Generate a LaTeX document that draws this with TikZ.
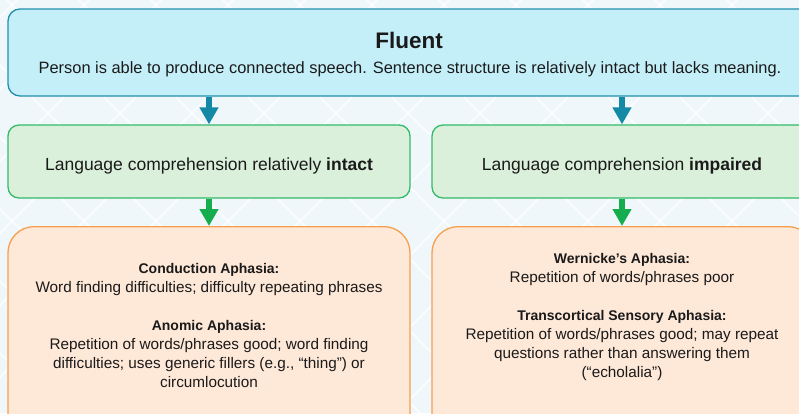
\documentclass[tikz,border=0pt]{standalone}
\usepackage{fontspec}
\setmainfont{Liberation Sans}
\usetikzlibrary{arrows.meta}
\definecolor{bgcol}{HTML}{EFF7FA}
\definecolor{topfill}{HTML}{C4EFF8}
\definecolor{topline}{HTML}{2190AD}
\definecolor{tarrow}{HTML}{1489A6}
\definecolor{gfill}{HTML}{DBF0DA}
\definecolor{gline}{HTML}{33BB6A}
\definecolor{garrow}{HTML}{16AD4E}
\definecolor{ofill}{HTML}{FEE8D8}
\definecolor{oline}{HTML}{F5A04F}
\definecolor{txt}{HTML}{1A1A1A}
\newcommand{\hd}[1]{{\fontsize{14}{19}\selectfont\bfseries #1}}
\tikzset{
  topbox/.style={draw=topline, fill=topfill, line width=1.3pt, rounded corners=12pt, inner sep=0pt},
  gbox/.style={draw=gline, fill=gfill, line width=1.3pt, rounded corners=11pt, inner sep=0pt},
  obox/.style={draw=oline, fill=ofill, line width=1.3pt, rounded corners=26pt, inner sep=0pt},
  lbl/.style={text=txt, inner sep=0pt, align=center},
  flow/.style={line width=6pt, -{Triangle[width=18pt,length=17pt]}},
}
\begin{document}
\begin{tikzpicture}[x=1pt,y=-1pt]
\useasboundingbox (0,0) rectangle (799,413);
\clip (0,0) rectangle (799,413);
\fill[bgcol] (0,0) rectangle (799,413);
% lattice
\foreach \k in {-1,...,16} {
  \pgfmathsetmacro{\c}{161+72*\k-72*2}
  \draw[white, line width=1.5pt, opacity=0.85] (\c,0) -- ({\c-500},500);
}
\foreach \k in {-8,...,12} {
  \pgfmathsetmacro{\c}{-65+72*\k}
  \draw[white, line width=1.5pt, opacity=0.85] (\c,0) -- ({\c+500},500);
}
% boxes
\node[topbox, minimum width=804pt, minimum height=87pt] (top) at (410,52.5) {};
\node[lbl, anchor=base, font=\fontsize{22.5}{26}\selectfont\bfseries] (title) at (409,48) {Fluent};
\node[lbl, anchor=base, font=\fontsize{16.4}{19}\selectfont] (sub) at (410,73) {Person is able to produce connected speech. Sentence structure is relatively intact but lacks meaning.};

\node[gbox, minimum width=402pt, minimum height=73pt] (g1) at (209,161.5) {};
\node[gbox, minimum width=382pt, minimum height=73pt] (g2) at (623,161.5) {};
\node[lbl, anchor=base, font=\fontsize{17.5}{20}\selectfont] (g1t) at (209,170) {Language comprehension relatively \textbf{intact}};
\node[lbl, anchor=base, font=\fontsize{17.5}{20}\selectfont] (g2t) at (622,170) {Language comprehension \textbf{impaired}};

\node[obox, anchor=north, minimum width=402pt, minimum height=240pt] (o1) at (209,226) {};
\node[obox, anchor=north, minimum width=382pt, minimum height=240pt] (o2) at (623,226) {};

\node[lbl, anchor=base, font=\fontsize{15.3}{19}\selectfont] (o1t) at (209,387) {\hd{Conduction Aphasia:}\\
Word finding difficulties; difficulty repeating phrases\\[19pt]
\hd{Anomic Aphasia:}\\
Repetition of words/phrases good; word finding\\
difficulties; uses generic fillers (e.g., “thing”) or\\
circumlocution};
\node[lbl, anchor=base, font=\fontsize{15.3}{19}\selectfont] (o2t) at (622,377) {\hd{Wernicke’s Aphasia:}\\
Repetition of words/phrases poor\\[19pt]
\hd{Transcortical Sensory Aphasia:}\\
Repetition of words/phrases good; may repeat\\
questions rather than answering them\\
(“echolalia”)};

% arrows
\draw[flow, tarrow] (top.south -| g1.north) -- (g1.north);
\draw[flow, tarrow] (top.south -| g2t.north) -- (g2.north -| g2t.north);
\draw[flow, garrow] (g1.south) -- (o1.north);
\draw[flow, garrow] (g2.south -| g2t.north) -- (o2.north -| g2t.north);
\end{tikzpicture}
\end{document}
